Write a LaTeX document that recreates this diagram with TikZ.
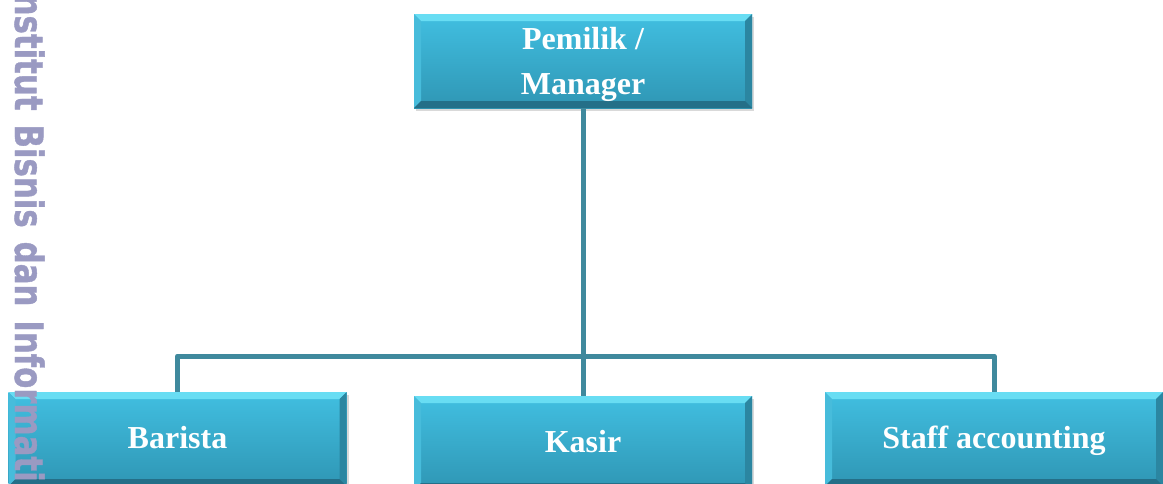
\documentclass[tikz,border=0pt]{standalone}
\usepackage{fontspec}
\setmainfont{Liberation Serif}
\newfontfamily\wmfont[WordSpace=1.3,FakeBold=1.2]{DejaVu Sans Bold}
\usetikzlibrary{shadows,positioning}
\definecolor{facetop}{HTML}{41BFE1}
\definecolor{facebot}{HTML}{2F96B4}
\definecolor{bevlight}{HTML}{68DDF3}
\definecolor{bevleft}{HTML}{47BCDB}
\definecolor{bevright}{HTML}{2B86A1}
\definecolor{bevdark}{HTML}{246F88}
\definecolor{linkcol}{HTML}{3F899D}
\definecolor{wmcol}{HTML}{9A9AC2}
\tikzset
{
    orgnode/.style = {rectangle, minimum width=338pt, minimum height=94pt, inner sep=0pt, align=center,
        text=white, font=\bfseries\fontsize{32}{45}\selectfont,
        top color=facetop, bottom color=facebot,
        drop shadow={shadow xshift=2pt, shadow yshift=-3pt, opacity=.3},
        path picture={
            \fill[bevlight] (path picture bounding box.north west) -- (path picture bounding box.north east)
                -- ([shift={(-7pt,-7pt)}]path picture bounding box.north east) -- ([shift={(7pt,-7pt)}]path picture bounding box.north west) -- cycle;
            \fill[bevleft] (path picture bounding box.north west) -- (path picture bounding box.south west)
                -- ([shift={(7pt,7pt)}]path picture bounding box.south west) -- ([shift={(7pt,-7pt)}]path picture bounding box.north west) -- cycle;
            \fill[bevright] (path picture bounding box.north east) -- (path picture bounding box.south east)
                -- ([shift={(-7pt,7pt)}]path picture bounding box.south east) -- ([shift={(-7pt,-7pt)}]path picture bounding box.north east) -- cycle;
            \fill[bevdark] (path picture bounding box.south west) -- (path picture bounding box.south east)
                -- ([shift={(-7pt,7pt)}]path picture bounding box.south east) -- ([shift={(7pt,7pt)}]path picture bounding box.south west) -- cycle;
        }},
    leafnode/.style = {orgnode, text height=18pt, text depth=0pt},
    link/.style = {draw=linkcol, line width=5pt, line join=round},
    wmtext/.style = {rotate=-90, xscale=.79, anchor=base west, inner sep=0pt, text=wmcol, font=\wmfont\fontsize{39}{40}\selectfont}
}

\begin{document}
\begin{tikzpicture}[x=1pt, y=-1pt]
\useasboundingbox (0,0) rectangle (1163,483);
\clip (0,0) rectangle (1163,483);
% connectors
\coordinate (hub) at (583,356);
\node[orgnode] (mgr) at (583,61) {\rule{0pt}{30pt}Pemilik /\\Manager};
\node[leafnode] (bar) at (177.5,439) {Barista};
\node[leafnode] (kas) at (583,443) {Kasir};
\node[leafnode] (stf) at (994,439) {Staff accounting};
\draw[link] (mgr) -- (hub);
\draw[link] (bar.north) |- (hub) -| (stf.north);
\draw[link] (hub) -- (kas.north);
% watermark
\node[wmtext] (wm) at (15,-18) {Institut Bisnis dan Informatika};
\end{tikzpicture}
\end{document}
